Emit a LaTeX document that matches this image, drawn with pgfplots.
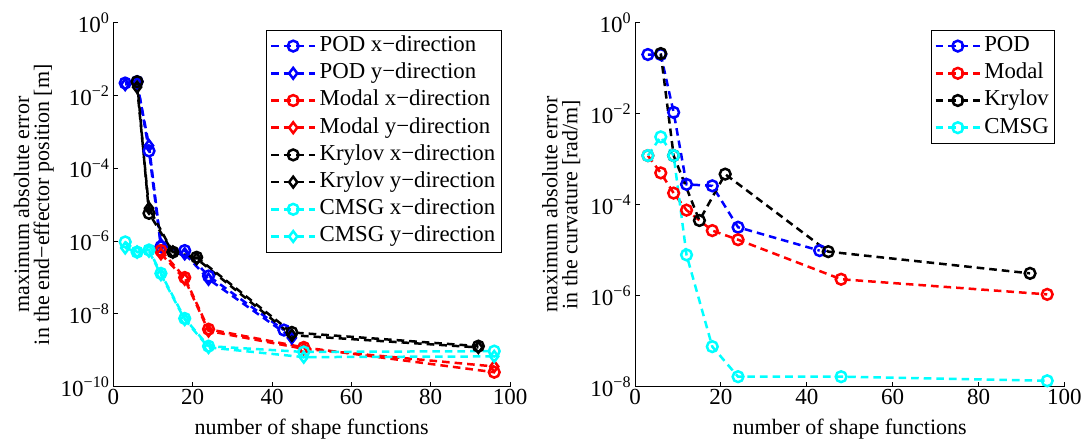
\documentclass[border=0pt]{standalone}
\usepackage{fontspec}
\setmainfont{Liberation Serif}
\usepackage{pgfplots}
\pgfplotsset{compat=1.18}
\pgfkeys{/pgf/number format/assume math mode=true}

\definecolor{mblue}{rgb}{0,0,1}
\definecolor{mred}{rgb}{1,0,0}
\definecolor{mcyan}{rgb}{0,1,1}

\newcommand{\tp}[1]{10\textsuperscript{#1}}

\pgfplotsset{
  errstyle/.style={
    scale only axis, height=182pt,
    xmin=0, xmax=100,
    axis lines*=left,
    axis line style={black, line width=0.5pt},
    tick align=inside, major tick length=2.5pt,
    tick style={black, line width=0.5pt},
    yminorticks=false,
    xtick={0,20,...,100},
    ticklabel style={font=\rmfamily\fontsize{11.5}{12}\selectfont},
    xticklabel style={inner sep=1pt},
    yticklabel style={inner sep=1.5pt},
    label style={font=\rmfamily\fontsize{11}{10}\selectfont},
    xlabel={number of shape functions},
    xlabel style={at={(axis description cs:0.5,-0.117)}, anchor=center},
    every axis plot/.append style={line width=1.25pt, dash pattern=on 3.8pt off 2.5pt,
      mark size=2.7pt, mark options={solid}},
    legend cell align=left,
    legend style={at={(0.979,0.98)}, anchor=north east, draw=black, line width=0.5pt,
      font=\rmfamily\fontsize{11.4}{12}\selectfont, inner xsep=1.5pt, inner ysep=1pt,
      nodes={inner sep=1.5pt, text height=8pt, text depth=2.6pt}},
    legend image code/.code={\draw[mark repeat=2,mark phase=2]
      plot coordinates {(0cm,0cm) (0.39cm,0cm) (0.78cm,0cm)};},
  },
}

\begin{document}
\begin{tikzpicture}[font=\rmfamily]
\begin{semilogyaxis}[errstyle, at={(0,0)}, anchor=south west,
  width=198.4pt, ymin=1e-10, ymax=1,
  ytick={1e-10,1e-8,1e-6,1e-4,1e-2,1},
  yticklabels={\tp{−10},\tp{−8},\tp{−6},\tp{−4},\tp{−2},\tp{0}},
  ylabel={maximum absolute error\\in the end−effector position [m]},
  ylabel style={align=center, at={(axis description cs:-0.2,0.5)}, anchor=center},
]
\addplot[mblue, mark=o] coordinates {(3,2.2e-2) (6,2.4e-2) (9,3e-4) (12,7e-7) (18,5.5e-7) (24,1.1e-7) (43,3.6e-9)};
\addplot[mblue, mark=diamond] coordinates {(3,2.0e-2) (6,2.2e-2) (9,4.2e-4) (12,8e-7) (18,4.5e-7) (24,9e-8) (45,2.2e-9)};
\addplot[mred, mark=o] coordinates {(12,5.5e-7) (18,1e-7) (24,3.8e-9) (48,1.2e-9) (96,2.5e-10)};
\addplot[mred, mark=diamond] coordinates {(12,4.5e-7) (18,9e-8) (24,3.4e-9) (48,1.1e-9) (96,3.6e-10)};
\addplot[black, mark=o] coordinates {(6,2.4e-2) (9,5.8e-6) (15,5e-7) (21,3.6e-7) (45,3.1e-9) (92,1.3e-9)};
\addplot[black, mark=diamond] coordinates {(6,1.7e-2) (9,8e-6) (15,5e-7) (21,3.3e-7) (45,2.6e-9) (92,1.2e-9)};
\addplot[mcyan, mark=o] coordinates {(3,9.5e-7) (6,5e-7) (9,5.7e-7) (12,1.3e-7) (18,7.5e-9) (24,1.3e-9) (48,9e-10) (96,9.5e-10)};
\addplot[mcyan, mark=diamond] coordinates {(3,6.5e-7) (6,5e-7) (9,5.3e-7) (12,1.2e-7) (18,7e-9) (24,1.2e-9) (48,6.5e-10) (96,6.8e-10)};
\legend{POD x−direction,POD y−direction,Modal x−direction,Modal y−direction,Krylov x−direction,Krylov y−direction,CMSG x−direction,CMSG y−direction}
\end{semilogyaxis}

\begin{semilogyaxis}[errstyle, at={(260.85pt,0)}, anchor=south west,
  width=214.7pt, ymin=1e-8, ymax=1,
  ytick={1e-8,1e-6,1e-4,1e-2,1},
  yticklabels={\tp{−8},\tp{−6},\tp{−4},\tp{−2},\tp{0}},
  ylabel={maximum absolute error\\in the curvature [rad/m]},
  ylabel style={align=center, at={(axis description cs:-0.172,0.5)}, anchor=center},
]
\addplot[mblue, mark=o] coordinates {(3,0.2) (6,0.2) (9,1.07e-2) (12,2.8e-4) (18,2.6e-4) (24,3.2e-5) (43,9.8e-6)};
\addplot[mred, mark=o] coordinates {(3,1.2e-3) (6,5e-4) (9,1.8e-4) (12,7.6e-5) (18,2.7e-5) (24,1.7e-5) (48,2.3e-6) (96,1.07e-6)};
\addplot[black, mark=o] coordinates {(6,0.21) (9,1.2e-3) (15,4.5e-5) (21,4.7e-4) (45,9.3e-6) (92,3.1e-6)};
\addplot[mcyan, mark=o] coordinates {(3,1.2e-3) (6,3.1e-3) (9,1.2e-3) (12,7.9e-6) (18,7.6e-8) (24,1.66e-8) (48,1.66e-8) (96,1.35e-8)};
\legend{POD,Modal,Krylov,CMSG}
\end{semilogyaxis}

\pgfresetboundingbox
\path[use as bounding box] (-56.65pt,-27.15pt) rectangle (487.35pt,193.35pt);
\end{tikzpicture}
\end{document}
